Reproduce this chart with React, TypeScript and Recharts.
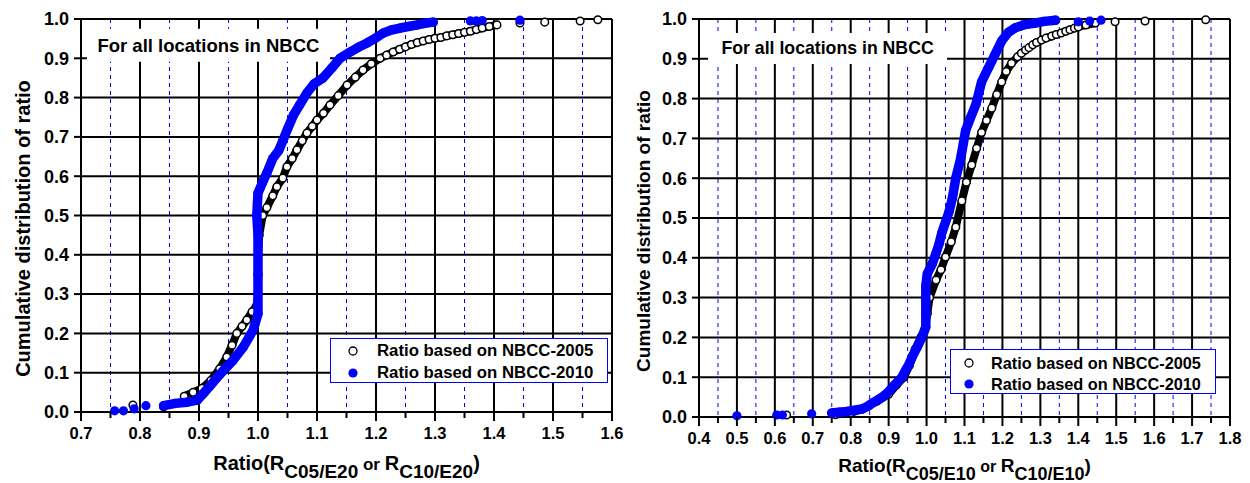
import React from "react";
import { ScatterChart, Scatter, XAxis, YAxis, CartesianGrid, ReferenceArea, Legend } from "recharts";

type Pt = { x: number; y: number };

const FONT = "'Liberation Sans', Arial, Helvetica, sans-serif";
const BLUE = "#0000ff";
const TICK_LEN = 9;
const TICK_GAP = 6;

const yTicks = [0, 0.1, 0.2, 0.3, 0.4, 0.5, 0.6, 0.7, 0.8, 0.9, 1.0];
const leftMajor = [0.7, 0.8, 0.9, 1.0, 1.1, 1.2, 1.3, 1.4, 1.5, 1.6];
const leftMinor = [0.75, 0.85, 0.95, 1.05, 1.15, 1.25, 1.35, 1.45, 1.55];
const rightMajor = [0.4, 0.5, 0.6, 0.7, 0.8, 0.9, 1.0, 1.1, 1.2, 1.3, 1.4, 1.5, 1.6, 1.7, 1.8];
const rightMinor = [0.45, 0.55, 0.65, 0.75, 0.85, 0.95, 1.05, 1.15, 1.25, 1.35, 1.45, 1.55, 1.65, 1.75];

const seriesNames = ["Ratio based on NBCC-2005", "Ratio based on NBCC-2010"];
const titleText = "For all locations in NBCC";

// left panel: R C05/E20 vs R C10/E20
const left2005Band: Pt[] = [
  { x: 0.875, y: 0.04 }, { x: 0.89, y: 0.05 }, { x: 0.905, y: 0.06 }, { x: 0.92, y: 0.08 },
  { x: 0.935, y: 0.11 }, { x: 0.947, y: 0.14 }, { x: 0.956, y: 0.17 }, { x: 0.964, y: 0.2 },
  { x: 0.973, y: 0.218 }, { x: 0.981, y: 0.234 }, { x: 0.99, y: 0.255 }, { x: 0.998, y: 0.272 },
  { x: 1.0, y: 0.3 }, { x: 1.0, y: 0.35 }, { x: 1.0, y: 0.4 }, { x: 1.002, y: 0.45 },
  { x: 1.008, y: 0.5 }, { x: 1.015, y: 0.52 }, { x: 1.025, y: 0.55 }, { x: 1.032, y: 0.573 },
  { x: 1.042, y: 0.595 }, { x: 1.049, y: 0.624 }, { x: 1.058, y: 0.645 }, { x: 1.066, y: 0.667 },
  { x: 1.075, y: 0.69 }, { x: 1.083, y: 0.71 }, { x: 1.092, y: 0.727 }, { x: 1.1, y: 0.743 },
  { x: 1.111, y: 0.76 }, { x: 1.122, y: 0.781 }, { x: 1.136, y: 0.805 }, { x: 1.151, y: 0.832 },
  { x: 1.165, y: 0.852 }, { x: 1.178, y: 0.87 }, { x: 1.192, y: 0.886 }, { x: 1.207, y: 0.9 },
  { x: 1.218, y: 0.908 }, { x: 1.229, y: 0.916 }, { x: 1.24, y: 0.923 }, { x: 1.25, y: 0.929 },
  { x: 1.26, y: 0.935 }, { x: 1.27, y: 0.94 }, { x: 1.28, y: 0.944 }, { x: 1.29, y: 0.948 },
  { x: 1.3, y: 0.951 }, { x: 1.31, y: 0.953 }, { x: 1.32, y: 0.957 }, { x: 1.33, y: 0.96 },
  { x: 1.34, y: 0.963 }, { x: 1.35, y: 0.966 }, { x: 1.36, y: 0.969 }, { x: 1.37, y: 0.973 },
  { x: 1.38, y: 0.977 }, { x: 1.392, y: 0.981 }, { x: 1.405, y: 0.985 },
];
const left2005Tail: Pt[] = [
  { x: 0.788, y: 0.018 }, { x: 0.84, y: 0.013 }, { x: 1.444, y: 0.99 }, { x: 1.486, y: 0.992 },
  { x: 1.546, y: 0.995 }, { x: 1.576, y: 0.998 },
];
const left2010Band: Pt[] = [
  { x: 0.84, y: 0.016 }, { x: 0.86, y: 0.022 }, { x: 0.88, y: 0.025 }, { x: 0.897, y: 0.03 },
  { x: 0.908, y: 0.048 }, { x: 0.919, y: 0.067 }, { x: 0.936, y: 0.097 }, { x: 0.958, y: 0.132 },
  { x: 0.975, y: 0.165 }, { x: 0.992, y: 0.209 }, { x: 1.0, y: 0.25 }, { x: 1.0, y: 0.3 },
  { x: 1.0, y: 0.35 }, { x: 1.0, y: 0.4 }, { x: 1.0, y: 0.45 }, { x: 0.998, y: 0.5 },
  { x: 0.999, y: 0.53 }, { x: 1.0, y: 0.557 }, { x: 1.008, y: 0.585 }, { x: 1.015, y: 0.608 },
  { x: 1.025, y: 0.645 }, { x: 1.035, y: 0.665 }, { x: 1.042, y: 0.69 }, { x: 1.05, y: 0.72 },
  { x: 1.06, y: 0.755 }, { x: 1.07, y: 0.78 }, { x: 1.083, y: 0.812 }, { x: 1.095, y: 0.835 },
  { x: 1.11, y: 0.85 }, { x: 1.125, y: 0.875 }, { x: 1.139, y: 0.9 }, { x: 1.156, y: 0.916 },
  { x: 1.17, y: 0.928 }, { x: 1.185, y: 0.939 }, { x: 1.2, y: 0.952 }, { x: 1.212, y: 0.964 },
  { x: 1.226, y: 0.972 }, { x: 1.241, y: 0.977 }, { x: 1.255, y: 0.981 }, { x: 1.27, y: 0.985 },
  { x: 1.283, y: 0.989 }, { x: 1.297, y: 0.992 },
];
const left2010Tail: Pt[] = [
  { x: 0.757, y: 0.003 }, { x: 0.772, y: 0.003 }, { x: 0.79, y: 0.008 }, { x: 0.81, y: 0.016 },
  { x: 1.36, y: 0.995 }, { x: 1.37, y: 0.995 }, { x: 1.38, y: 0.996 }, { x: 1.444, y: 0.997 },
];

// right panel: R C05/E10 vs R C10/E10
const right2005Band: Pt[] = [
  { x: 0.76, y: 0.006 }, { x: 0.8, y: 0.01 }, { x: 0.83, y: 0.02 }, { x: 0.85, y: 0.03 },
  { x: 0.87, y: 0.04 }, { x: 0.9, y: 0.057 }, { x: 0.92, y: 0.08 }, { x: 0.94, y: 0.1 },
  { x: 0.955, y: 0.13 }, { x: 0.97, y: 0.17 }, { x: 0.985, y: 0.2 }, { x: 0.995, y: 0.22 },
  { x: 1.002, y: 0.26 }, { x: 1.008, y: 0.3 }, { x: 1.025, y: 0.344 }, { x: 1.038, y: 0.37 },
  { x: 1.05, y: 0.402 }, { x: 1.065, y: 0.44 }, { x: 1.077, y: 0.477 }, { x: 1.093, y: 0.543 },
  { x: 1.105, y: 0.59 }, { x: 1.119, y: 0.633 }, { x: 1.132, y: 0.675 }, { x: 1.145, y: 0.715 },
  { x: 1.158, y: 0.745 }, { x: 1.172, y: 0.776 }, { x: 1.185, y: 0.81 }, { x: 1.198, y: 0.842 },
  { x: 1.21, y: 0.868 }, { x: 1.224, y: 0.889 }, { x: 1.24, y: 0.905 }, { x: 1.25, y: 0.914 },
  { x: 1.261, y: 0.922 }, { x: 1.27, y: 0.928 }, { x: 1.28, y: 0.935 }, { x: 1.29, y: 0.941 },
  { x: 1.303, y: 0.947 }, { x: 1.315, y: 0.952 }, { x: 1.33, y: 0.957 }, { x: 1.342, y: 0.961 },
  { x: 1.355, y: 0.965 }, { x: 1.367, y: 0.969 }, { x: 1.378, y: 0.973 }, { x: 1.39, y: 0.977 },
  { x: 1.4, y: 0.98 }, { x: 1.42, y: 0.985 }, { x: 1.445, y: 0.99 },
];
const right2005Tail: Pt[] = [
  { x: 0.631, y: 0.005 }, { x: 1.497, y: 0.993 }, { x: 1.576, y: 0.995 }, { x: 1.736, y: 0.998 },
];
const right2010Band: Pt[] = [
  { x: 0.75, y: 0.01 }, { x: 0.77, y: 0.012 }, { x: 0.79, y: 0.014 }, { x: 0.81, y: 0.017 },
  { x: 0.83, y: 0.02 }, { x: 0.845, y: 0.027 }, { x: 0.857, y: 0.035 }, { x: 0.875, y: 0.045 },
  { x: 0.89, y: 0.055 }, { x: 0.901, y: 0.065 }, { x: 0.915, y: 0.08 }, { x: 0.925, y: 0.09 },
  { x: 0.935, y: 0.1 }, { x: 0.945, y: 0.118 }, { x: 0.955, y: 0.135 }, { x: 0.962, y: 0.151 },
  { x: 0.975, y: 0.175 }, { x: 0.988, y: 0.201 }, { x: 0.998, y: 0.226 }, { x: 0.998, y: 0.26 },
  { x: 0.998, y: 0.294 }, { x: 0.998, y: 0.33 }, { x: 1.002, y: 0.36 }, { x: 1.015, y: 0.385 },
  { x: 1.025, y: 0.412 }, { x: 1.033, y: 0.435 }, { x: 1.04, y: 0.462 }, { x: 1.05, y: 0.49 },
  { x: 1.059, y: 0.515 }, { x: 1.068, y: 0.55 }, { x: 1.077, y: 0.6 }, { x: 1.09, y: 0.65 },
  { x: 1.103, y: 0.72 }, { x: 1.115, y: 0.75 }, { x: 1.13, y: 0.785 }, { x: 1.145, y: 0.842 },
  { x: 1.164, y: 0.879 }, { x: 1.18, y: 0.91 }, { x: 1.198, y: 0.945 }, { x: 1.216, y: 0.967 },
  { x: 1.234, y: 0.978 }, { x: 1.26, y: 0.986 }, { x: 1.287, y: 0.99 }, { x: 1.31, y: 0.994 },
  { x: 1.34, y: 0.997 },
];
const right2010Tail: Pt[] = [
  { x: 0.5, y: 0.003 }, { x: 0.605, y: 0.005 }, { x: 0.62, y: 0.005 }, { x: 0.697, y: 0.008 },
  { x: 1.4, y: 0.993 }, { x: 1.43, y: 0.995 }, { x: 1.46, y: 0.997 },
];

const openDot = (p: any) => (
  <circle cx={p.cx} cy={p.cy} r={3.8} fill="#fff" stroke="#000" strokeWidth={1.5} />
);
const blueDot = (p: any) => <circle cx={p.cx} cy={p.cy} r={4.6} fill={BLUE} />;

function makeXTick(major: number[], fs: number) {
  return (p: any) => {
    const v = p.payload.value;
    const isMajor = major.some((m) => Math.abs(m - v) < 1e-9);
    const axisY = p.y - TICK_LEN - TICK_GAP;
    return (
      <g>
        <line x1={p.x} x2={p.x} y1={axisY} y2={axisY + (isMajor ? TICK_LEN : 6)} stroke="#000" strokeWidth={2} />
        {isMajor && (
          <text x={p.x} y={p.y} dy="0.71em" textAnchor="middle" fontSize={fs} fontWeight="bold" fontFamily={FONT} fill="#000">
            {v.toFixed(1)}
          </text>
        )}
      </g>
    );
  };
}

function Panel(cfg: any) {
  const allX = [...cfg.major, ...cfg.minor].sort((a: number, b: number) => a - b);
  const fs = cfg.fs;
  const lg = cfg.legend;
  return (
    <div style={{ position: "absolute", left: cfg.left, top: 0 }}>
      <ScatterChart width={625} height={483} margin={cfg.margin}>
        <CartesianGrid horizontal={false} verticalValues={cfg.minor} syncWithTicks stroke={BLUE} strokeWidth={1} strokeDasharray="4 4" />
        <CartesianGrid verticalValues={cfg.major} horizontalValues={yTicks} syncWithTicks stroke="#000" strokeWidth={2} />
        <XAxis
          type="number"
          dataKey="x"
          domain={cfg.domain}
          ticks={allX}
          interval={0}
          height={cfg.xAxisHeight}
          tickSize={TICK_LEN}
          tickMargin={TICK_GAP}
          tickLine={false}
          axisLine={{ stroke: "#000", strokeWidth: 2 }}
          tick={makeXTick(cfg.major, fs.xtick)}
          label={(p: any) => {
            const vb = p.viewBox;
            return (
              <text x={vb.x + vb.width / 2} y={vb.y + cfg.xLabel.dy} textAnchor="middle" fontFamily={FONT} fontWeight="bold" fontSize={fs.axis} fill="#000">
                Ratio(R
                <tspan dy={8} fontSize={fs.axis - 1}>{cfg.xLabel.sub1}</tspan>
                <tspan dy={-8} fontSize={fs.axis - 3}> or </tspan>
                <tspan>R</tspan>
                <tspan dy={8} fontSize={fs.axis - 1}>{cfg.xLabel.sub2}</tspan>
                <tspan dy={-8}>)</tspan>
              </text>
            );
          }}
        />
        <YAxis
          type="number"
          dataKey="y"
          domain={[0, 1]}
          ticks={yTicks}
          interval={0}
          width={cfg.yAxisWidth}
          tickSize={7}
          tickMargin={5}
          tickFormatter={(v: number) => v.toFixed(1)}
          tick={{ fontSize: fs.ytick, fontWeight: "bold", fontFamily: FONT, fill: "#000" }}
          tickLine={{ stroke: "#000", strokeWidth: 2 }}
          axisLine={{ stroke: "#000", strokeWidth: 2 }}
          label={(p: any) => {
            const vb = p.viewBox;
            const x = vb.x + cfg.yLabel.dx;
            const y = vb.y + vb.height / 2 + cfg.yLabel.dy;
            return (
              <text x={x} y={y} transform={`rotate(-90, ${x}, ${y})`} textAnchor="middle" dominantBaseline="central" fontFamily={FONT} fontWeight="bold" fontSize={fs.axis} fill="#000">
                Cumulative distribution of ratio
              </text>
            );
          }}
        />
        <ReferenceArea
          x1={cfg.box.x1}
          x2={cfg.box.x2}
          y1={cfg.box.y1}
          y2={cfg.box.y2}
          fill="#fff"
          fillOpacity={1}
          stroke="none"
          label={(p: any) => {
            const vb = p.viewBox;
            return (
              <text x={vb.x + vb.width / 2} y={vb.y + vb.height / 2} textAnchor="middle" dominantBaseline="central" fontFamily={FONT} fontWeight="bold" fontSize={fs.title} fill="#000">
                {titleText}
              </text>
            );
          }}
        />
        <Scatter data={cfg.band05} line={{ stroke: "#000", strokeWidth: 8, strokeLinejoin: "round", strokeLinecap: "round" }} shape={openDot} isAnimationActive={false} legendType="none" />
        <Scatter data={cfg.tail05} shape={openDot} isAnimationActive={false} legendType="none" />
        <Scatter data={cfg.band10} line={{ stroke: BLUE, strokeWidth: 9.5, strokeLinejoin: "round", strokeLinecap: "round" }} shape={blueDot} isAnimationActive={false} legendType="none" />
        <Scatter data={cfg.tail10} shape={blueDot} isAnimationActive={false} legendType="none" />
        <Legend
          layout="vertical"
          align="center"
          verticalAlign="middle"
          wrapperStyle={{ left: lg.left, top: lg.top, width: lg.width, height: lg.height }}
          content={() => (
            <div
              style={{
                position: "relative",
                width: lg.width,
                height: lg.height,
                boxSizing: "border-box",
                border: `1.5px solid ${BLUE}`,
                background: "#fff",
                fontFamily: FONT,
                fontWeight: "bold",
                fontSize: fs.legend,
                color: "#000",
              }}
            >
              {seriesNames.map((name, i) => (
                <div key={name} style={{ position: "absolute", left: 0, top: (i === 0 ? lg.row1 : lg.row2) - 11, height: 22, width: "100%" }}>
                  <svg width={14} height={22} style={{ position: "absolute", left: lg.markerX - 7, top: 0 }}>
                    {i === 0 ? (
                      <circle cx={7} cy={11} r={4} fill="#fff" stroke="#000" strokeWidth={1.3} />
                    ) : (
                      <circle cx={7} cy={11} r={4.6} fill={BLUE} />
                    )}
                  </svg>
                  <span style={{ position: "absolute", left: lg.textX, top: 0, lineHeight: "22px", whiteSpace: "nowrap" }}>{name}</span>
                </div>
              ))}
            </div>
          )}
        />
      </ScatterChart>
    </div>
  );
}

export default function App() {
  return (
    <div style={{ position: "absolute", left: 0, top: 0, width: 1250, height: 483, background: "#fff" }}>
      <Panel
        left={0}
        margin={{ top: 19, right: 13, bottom: 0, left: 0 }}
        yAxisWidth={81}
        xAxisHeight={71}
        domain={[0.7, 1.6]}
        major={leftMajor}
        minor={leftMinor}
        band05={left2005Band}
        tail05={left2005Tail}
        band10={left2010Band}
        tail10={left2010Tail}
        box={{ x1: 0.71, x2: 1.122, y1: 0.891, y2: 0.975 }}
        fs={{ xtick: 16.5, ytick: 18, title: 18.5, legend: 16.8, axis: 20 }}
        xLabel={{ sub1: "C05/E20", sub2: "C10/E20", dy: 58 }}
        yLabel={{ dx: 23, dy: 13 }}
        legend={{ left: 330, top: 338, width: 278, height: 45, markerX: 22, textX: 46, row1: 12, row2: 34 }}
      />
      <Panel
        left={625}
        margin={{ top: 19, right: 20, bottom: 0, left: 0 }}
        yAxisWidth={74}
        xAxisHeight={66}
        domain={[0.4, 1.8]}
        major={rightMajor}
        minor={rightMinor}
        band05={right2005Band}
        tail05={right2005Tail}
        band10={right2010Band}
        tail10={right2010Tail}
        box={{ x1: 0.424, x2: 1.054, y1: 0.887, y2: 0.965 }}
        fs={{ xtick: 16.5, ytick: 18, title: 17.7, legend: 16.3, axis: 19 }}
        xLabel={{ sub1: "C05/E10", sub2: "C10/E10", dy: 55 }}
        yLabel={{ dx: 18, dy: 13 }}
        legend={{ left: 325, top: 349, width: 266, height: 45, markerX: 18, textX: 40, row1: 13, row2: 34 }}
      />
    </div>
  );
}
